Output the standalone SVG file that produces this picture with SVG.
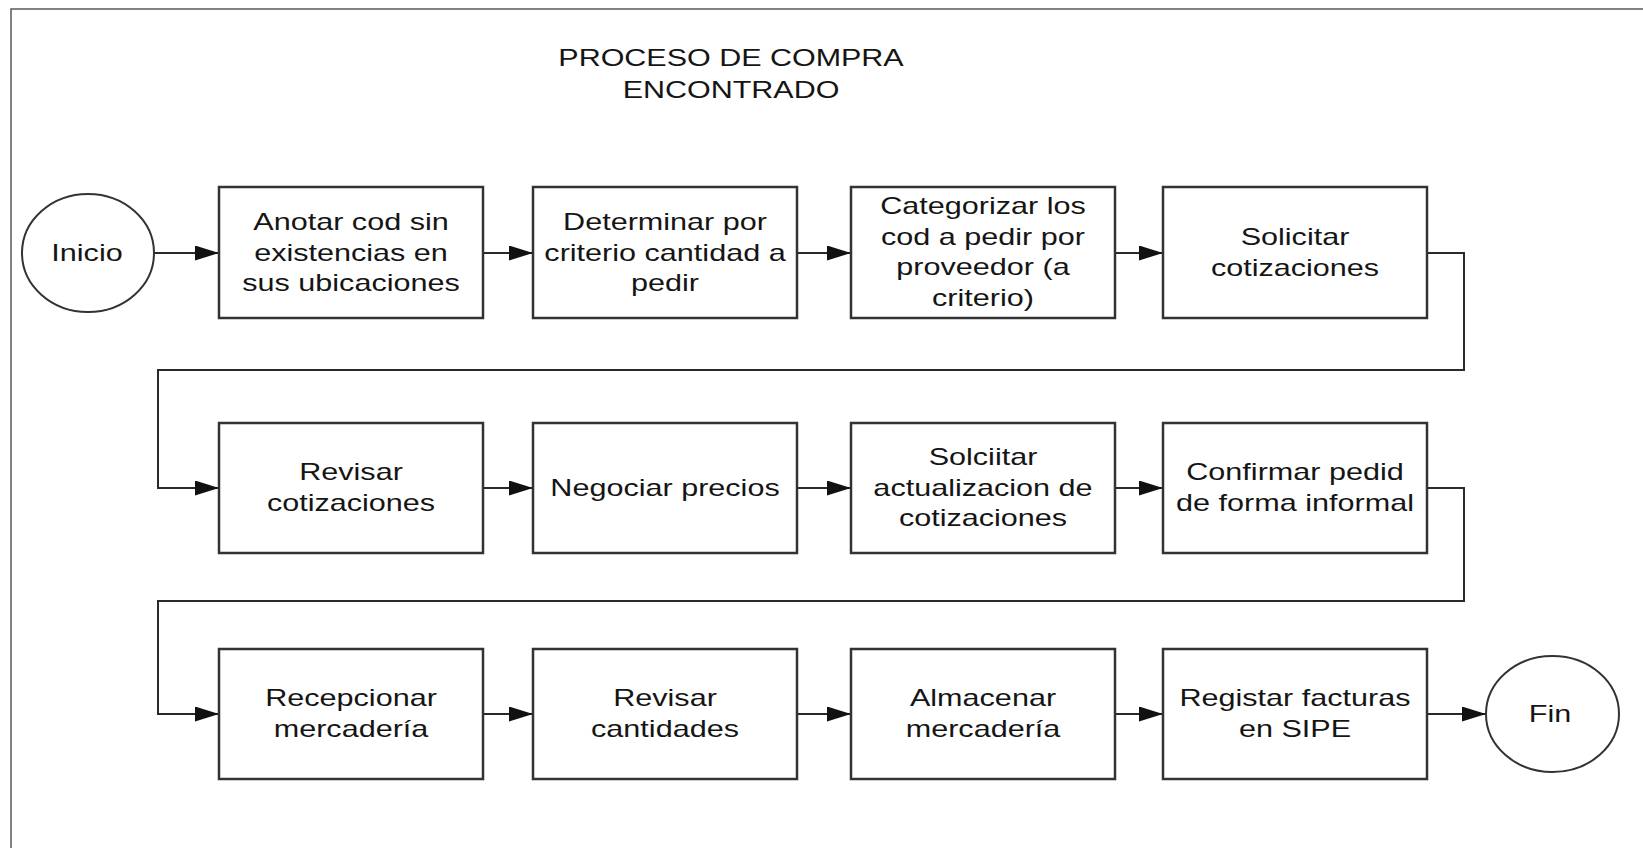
<svg xmlns="http://www.w3.org/2000/svg" width="1643" height="848" viewBox="0 0 1643 848">
<style>
.frame{fill:none;stroke:#5a5a5a;stroke-width:1.5}
.box{fill:#fff;stroke:#333;stroke-width:2.5}
.term{fill:#fff;stroke:#333;stroke-width:2}
.con{fill:none;stroke:#2a2a2a;stroke-width:2}
.t{font-family:"Liberation Sans",Arial,sans-serif;font-size:23px;fill:#151515;text-anchor:middle}
.title{font-family:"Liberation Sans",Arial,sans-serif;font-size:24px;fill:#151515;text-anchor:middle}
</style>
<defs>
<marker id="ah" markerUnits="userSpaceOnUse" markerWidth="26" markerHeight="16" refX="24" refY="7.5" orient="auto">
<path d="M0,0 L24,7.5 L0,15 z" fill="#111"/>
</marker>
</defs>
<rect width="1643" height="848" fill="#fff"/>
<path class="frame" d="M11,860 V9 H1660"/>
<g id="title" transform="translate(731,0) scale(1.27,1)">
<text class="title" x="0" y="66">PROCESO DE COMPRA</text>
<text class="title" x="0" y="98">ENCONTRADO</text>
</g>
<g id="connectors">
<path class="con" d="M154,253 H219" marker-end="url(#ah)"/>
<path class="con" d="M483,253 H533" marker-end="url(#ah)"/>
<path class="con" d="M797,253 H851" marker-end="url(#ah)"/>
<path class="con" d="M1115,253 H1163" marker-end="url(#ah)"/>
<path class="con" d="M1427,253 H1464 V370 H158 V488 H219" marker-end="url(#ah)"/>
<path class="con" d="M483,488 H533" marker-end="url(#ah)"/>
<path class="con" d="M797,488 H851" marker-end="url(#ah)"/>
<path class="con" d="M1115,488 H1163" marker-end="url(#ah)"/>
<path class="con" d="M1427,488 H1464 V601 H158 V714 H219" marker-end="url(#ah)"/>
<path class="con" d="M483,714 H533" marker-end="url(#ah)"/>
<path class="con" d="M789,714 H851" marker-end="url(#ah)"/>
<path class="con" d="M1115,714 H1163" marker-end="url(#ah)"/>
<path class="con" d="M1427,714 H1486" marker-end="url(#ah)"/>
</g>
<g id="inicio">
<ellipse class="term" cx="88" cy="253" rx="66" ry="59"/>
<text class="t" transform="translate(87,0) scale(1.33,1)" x="0" y="261">Inicio</text>
</g>
<g id="n1">
<rect class="box" x="219" y="187" width="264" height="131"/>
<g transform="translate(351,0) scale(1.33,1)"><text class="t"><tspan x="0" y="230">Anotar cod sin</tspan><tspan x="0" y="261">existencias en</tspan><tspan x="0" y="291">sus ubicaciones</tspan></text></g>
</g>
<g id="n2">
<rect class="box" x="533" y="187" width="264" height="131"/>
<g transform="translate(665,0) scale(1.33,1)"><text class="t"><tspan x="0" y="230">Determinar por</tspan><tspan x="0" y="261">criterio cantidad a</tspan><tspan x="0" y="291">pedir</tspan></text></g>
</g>
<g id="n3">
<rect class="box" x="851" y="187" width="264" height="131"/>
<g transform="translate(983,0) scale(1.33,1)"><text class="t"><tspan x="0" y="214">Categorizar los</tspan><tspan x="0" y="245">cod a pedir por</tspan><tspan x="0" y="275">proveedor (a</tspan><tspan x="0" y="306">criterio)</tspan></text></g>
</g>
<g id="n4">
<rect class="box" x="1163" y="187" width="264" height="131"/>
<g transform="translate(1295,0) scale(1.33,1)"><text class="t"><tspan x="0" y="245">Solicitar</tspan><tspan x="0" y="276">cotizaciones</tspan></text></g>
</g>
<g id="n5">
<rect class="box" x="219" y="423" width="264" height="130"/>
<g transform="translate(351,0) scale(1.33,1)"><text class="t"><tspan x="0" y="480">Revisar</tspan><tspan x="0" y="511">cotizaciones</tspan></text></g>
</g>
<g id="n6">
<rect class="box" x="533" y="423" width="264" height="130"/>
<g transform="translate(665,0) scale(1.33,1)"><text class="t" x="0" y="496">Negociar precios</text></g>
</g>
<g id="n7">
<rect class="box" x="851" y="423" width="264" height="130"/>
<g transform="translate(983,0) scale(1.33,1)"><text class="t"><tspan x="0" y="465">Solciitar</tspan><tspan x="0" y="496">actualizacion de</tspan><tspan x="0" y="526">cotizaciones</tspan></text></g>
</g>
<g id="n8">
<rect class="box" x="1163" y="423" width="264" height="130"/>
<g transform="translate(1295,0) scale(1.33,1)"><text class="t"><tspan x="0" y="480">Confirmar pedid</tspan><tspan x="0" y="511">de forma informal</tspan></text></g>
</g>
<g id="n9">
<rect class="box" x="219" y="649" width="264" height="130"/>
<g transform="translate(351,0) scale(1.33,1)"><text class="t"><tspan x="0" y="706">Recepcionar</tspan><tspan x="0" y="737">mercadería</tspan></text></g>
</g>
<g id="n10">
<rect class="box" x="533" y="649" width="264" height="130"/>
<g transform="translate(665,0) scale(1.33,1)"><text class="t"><tspan x="0" y="706">Revisar</tspan><tspan x="0" y="737">cantidades</tspan></text></g>
</g>
<g id="n11">
<rect class="box" x="851" y="649" width="264" height="130"/>
<g transform="translate(983,0) scale(1.33,1)"><text class="t"><tspan x="0" y="706">Almacenar</tspan><tspan x="0" y="737">mercadería</tspan></text></g>
</g>
<g id="n12">
<rect class="box" x="1163" y="649" width="264" height="130"/>
<g transform="translate(1295,0) scale(1.33,1)"><text class="t"><tspan x="0" y="706">Registar facturas</tspan><tspan x="0" y="737">en SIPE</tspan></text></g>
</g>
<g id="fin">
<ellipse class="term" cx="1552.5" cy="714" rx="66.5" ry="58"/>
<text class="t" transform="translate(1550,0) scale(1.33,1)" x="0" y="722">Fin</text>
</g>
</svg>
